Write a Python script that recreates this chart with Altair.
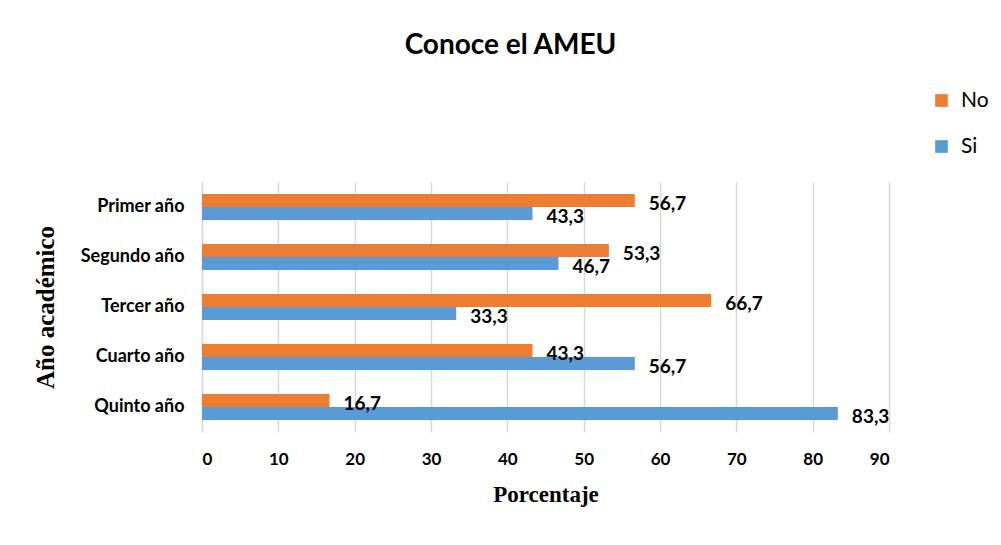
import altair as alt
import pandas as pd

categories = ["Primer año", "Segundo año", "Tercer año", "Cuarto año", "Quinto año"]
series = ["No", "Si"]
no_values = [56.7, 53.3, 66.7, 43.3, 16.7]
si_values = [43.3, 46.7, 33.3, 56.7, 83.3]
colors = ["#ED7D31", "#5B9BD5"]
x_ticks = [0, 10, 20, 30, 40, 50, 60, 70, 80, 90]

rows = []
for c, n, s in zip(categories, no_values, si_values):
    rows.append({"Año": c, "Respuesta": "No", "Porcentaje": n})
    rows.append({"Año": c, "Respuesta": "Si", "Porcentaje": s})
df = pd.DataFrame(rows)
df["Etiqueta"] = df["Porcentaje"].map(lambda v: f"{v:.1f}".replace(".", ","))

FONT = "Lato"
SERIF = "Liberation Serif"

base = alt.Chart(df).encode(
    y=alt.Y(
        "Año:N",
        sort=categories,
        scale=alt.Scale(paddingInner=0.48, paddingOuter=0.24),
        axis=alt.Axis(
            title="Año académico",
            titleFont=SERIF,
            titleFontSize=25,
            titleFontWeight="bold",
            titleColor="black",
            titlePadding=22,
            labelFont=FONT,
            labelFontSize=18,
            labelFontWeight="bold",
            labelColor="black",
            labelPadding=18,
            ticks=False,
            domain=True,
            domainColor="#d9d9d9",
            domainWidth=1.5,
            grid=False,
        ),
    ),
    yOffset=alt.YOffset("Respuesta:N", sort=series, scale=alt.Scale(paddingInner=0, paddingOuter=0)),
    x=alt.X(
        "Porcentaje:Q",
        scale=alt.Scale(domain=[0, 90], nice=False),
        axis=alt.Axis(
            values=x_ticks,
            title="Porcentaje",
            titleFont=SERIF,
            titleFontSize=23,
            titleFontWeight="bold",
            titleColor="black",
            titlePadding=16,
            labelFont=FONT,
            labelFontSize=17,
            labelFontWeight="bold",
            labelColor="black",
            labelPadding=19,
            ticks=False,
            domain=False,
            grid=True,
            gridColor="#d9d9d9",
            gridWidth=1.5,
        ),
    ),
)

bars = base.mark_bar().encode(
    color=alt.Color(
        "Respuesta:N",
        sort=series,
        scale=alt.Scale(domain=series, range=colors),
        legend=alt.Legend(
            title=None,
            orient="none",
            legendX=729,
            legendY=-92,
            symbolType="square",
            symbolSize=160,
            symbolStrokeWidth=0,
            labelFont=FONT,
            labelFontSize=21,
            labelColor="black",
            rowPadding=24,
            labelOffset=9,
        ),
    )
)

labels = base.mark_text(
    align="left", baseline="middle", dx=14, dy=3,
    font=FONT, fontSize=19, fontWeight="bold", color="black",
).encode(text="Etiqueta:N")

chart = (
    alt.layer(bars, labels)
    .properties(
        width=687,
        height=250,
        title=alt.TitleParams(
            "Conoce el AMEU",
            font=FONT,
            fontSize=28,
            fontWeight="bold",
            color="black",
            anchor="middle",
            dx=-35,
            offset=30,
        ),
        autosize=alt.AutoSizeParams(type="none"),
        padding={"left": 194, "top": 174, "right": 104, "bottom": 105},
        background="white",
    )
    .configure_view(stroke=None)
)

chart.save("out.html", embed_options={"renderer": "svg", "actions": False})
